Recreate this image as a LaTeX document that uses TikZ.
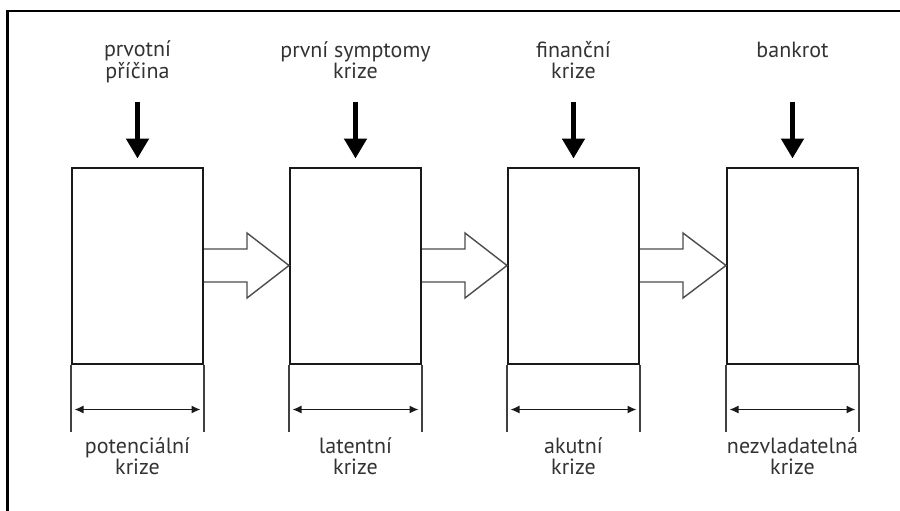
\documentclass[tikz,border=0pt]{standalone}
\usepackage{fontspec}
\setmainfont{PT Sans}
\usetikzlibrary{arrows.meta,calc}
\begin{document}
\begin{tikzpicture}[x=1pt,y=-1pt,
  stage/.style={draw=black!90,line width=2pt,minimum width=131pt,minimum height=196pt,inner sep=0pt},
  lbl/.style={font=\fontsize{22}{20.5}\selectfont,text=black!80,align=center,inner sep=0pt,anchor=base},
  cause/.style={draw=black,line width=5pt,-{Triangle[width=22pt,length=20pt]}},
  blockarrow/.style={draw=black!70,line width=1.4pt,fill=white,line join=miter},
  ext/.style={draw=black!75,line width=1.2pt},
  span/.style={draw=black!90,line width=1.3pt,{Latex[width=8pt,length=9pt]}-{Latex[width=8pt,length=9pt]}}]
\useasboundingbox (0,0) rectangle (900,511);
% outer frame (top and left edges)
\draw[line width=2.5pt] (900,11) -- (7.5,11) -- (7.5,511);

% the four stages
\node[stage] (b1) at (137.5,265.5) {};
\node[stage] (b2) at (355.5,265.5) {};
\node[stage] (b3) at (573.5,265.5) {};
\node[stage] (b4) at (792.5,265.5) {};

% hollow arrows between stages
\foreach \a/\b in {b1/b2,b2/b3,b3/b4}{
  \draw[blockarrow] ($(\a.east)+(0,-16.5)$) -- ++(43,0) -- ++(0,-16) -- (\b.west)
    -- ($(\a.east)+(43,32.5)$) -- ++(0,-16) -- ($(\a.east)+(0,16.5)$);
}

% triggers above each stage (base anchor sits on the last line)
\node[lbl] (t1) at ($(b1.north)+(0,-88.5)$) {prvotní\\příčina};
\node[lbl] (t2) at ($(b2.north)+(0,-88.5)$) {první symptomy\\krize};
\node[lbl] (t3) at ($(b3.north)+(0,-88.5)$) {finanční\\krize};
\node[lbl] (t4) at ($(b4.north)+(0,-109)$) {bankrot};
\foreach \b in {b1,b2,b3,b4}{
  \draw[cause] ($(\b.north)+(0,-65)$) -- ($(\b.north)+(0,-8)$);
}

% duration of each stage
\foreach \b in {b1,b2,b3,b4}{
  \draw[ext] (\b.south west) -- ++(0,67);
  \draw[ext] (\b.south east) -- ++(0,67);
  \draw[span] ($(\b.south west)+(3.5,45)$) -- ($(\b.south east)+(-3.5,45)$);
}
\node[lbl] (d1) at ($(b1.south)+(0,109.5)$) {potenciální\\krize};
\node[lbl] (d2) at ($(b2.south)+(0,109.5)$) {latentní\\krize};
\node[lbl] (d3) at ($(b3.south)+(0,109.5)$) {akutní\\krize};
\node[lbl] (d4) at ($(b4.south)+(0,109.5)$) {nezvladatelná\\krize};
\end{tikzpicture}
\end{document}
